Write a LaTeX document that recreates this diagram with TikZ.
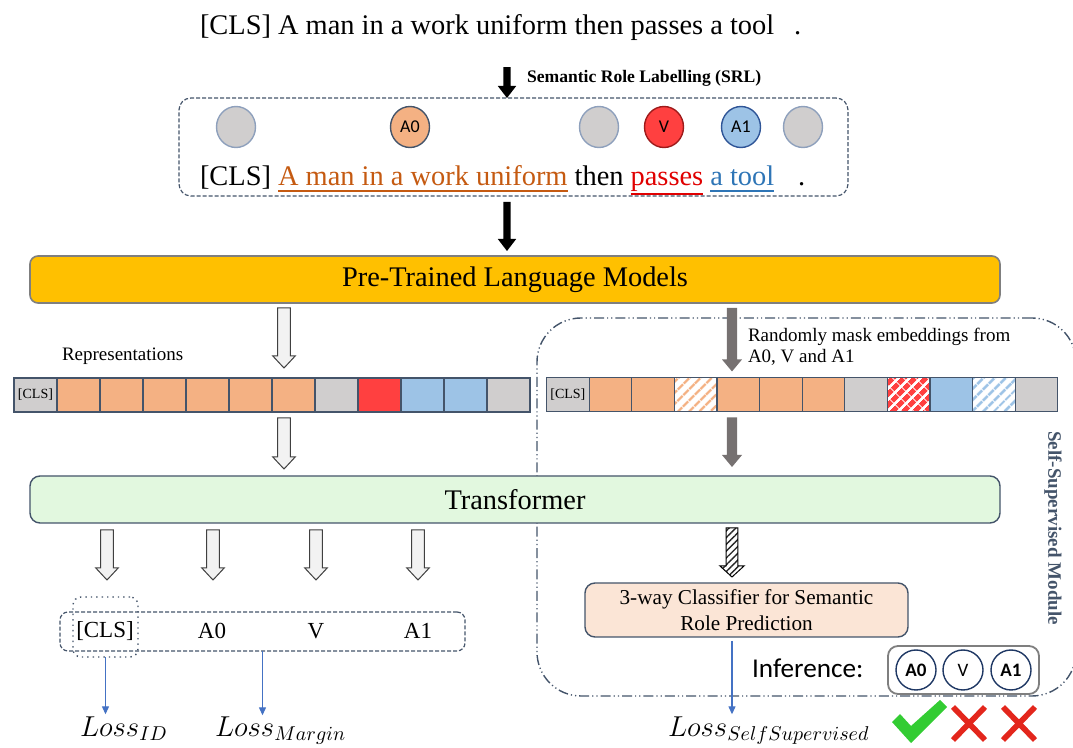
\documentclass[tikz,border=0pt]{standalone}
\usepackage{fontspec}
\setmainfont{Liberation Serif}
\newfontfamily\calfont{Carlito}
\usetikzlibrary{arrows.meta,patterns.meta,calc,shapes.geometric}

\definecolor{bgray}{HTML}{44546A}
\definecolor{plmfill}{HTML}{FFC000}
\definecolor{plmb}{HTML}{7F7F7F}
\definecolor{trfill}{HTML}{E2F8DF}
\definecolor{corange}{HTML}{F4B183}
\definecolor{cgray}{HTML}{D0CECE}
\definecolor{cgrayb}{HTML}{8EA0BC}
\definecolor{cred}{HTML}{FF4040}
\definecolor{darkred}{HTML}{9E1B1B}
\definecolor{cblue}{HTML}{9DC3E6}
\definecolor{blueb}{HTML}{2F5597}
\definecolor{tA0}{HTML}{C55A11}
\definecolor{tV}{HTML}{E00000}
\definecolor{tA1}{HTML}{2E75B6}
\definecolor{clsfill}{HTML}{FBE5D6}
\definecolor{arrgray}{HTML}{767171}
\definecolor{lossblue}{HTML}{4472C4}
\definecolor{navy}{HTML}{1F3864}
\definecolor{okgreen}{HTML}{33CC33}
\definecolor{xred}{HTML}{E3261C}

\newcommand\sentf{\fontsize{14.2}{17}\selectfont}
\newcommand\labf{\fontsize{11.5}{13}\selectfont}
\newcommand\smallf{\fontsize{9.5}{10.5}\selectfont}
\newcommand\lossf{\fontsize{14}{16}\selectfont}
\newcommand\losssub[1]{\raisebox{-2pt}{\fontsize{10}{12}\selectfont$#1$}}

% block arrow: style, start, end, shaft half width, head half width, head length
\newcommand\blk[6]{%
  \path[#1] let \p1=#2, \p2=#3 in
    ({\x1-#4},{\y1}) -- ({\x1-#4},{\y2+#6}) -- ({\x1-#5},{\y2+#6}) --
    ({\x1},{\y2}) -- ({\x1+#5},{\y2+#6}) -- ({\x1+#4},{\y2+#6}) -- ({\x1+#4},{\y1}) -- cycle;}

\begin{document}
\begin{tikzpicture}[x=0.5pt,y=-0.5pt,
  every node/.style={inner sep=0pt, outer sep=0pt},
  blackarr/.style={fill=black},
  grayarr/.style={fill=arrgray},
  hollow/.style={fill=black!5, draw=black!75, line width=0.5pt, line join=miter},
  hatcharr/.style={preaction={fill=white}, pattern={Lines[angle=45,distance=2.4pt,line width=0.7pt]}, pattern color=black!85, draw=black, line width=0.5pt},
  circ/.style={ellipse, minimum width=19.5pt, minimum height=20.5pt, line width=0.7pt, font=\calfont\fontsize{9}{10}\selectfont},
  icirc/.style={circle, minimum size=20pt, line width=0.7pt, draw=navy, fill=white},
  cell/.style={rectangle, draw=bgray, line width=0.6pt, minimum height=17pt},
  lcell/.style={cell, minimum width=21.5pt},
  rcell/.style={cell, minimum width=21.3pt},
  hatchcell/.style={preaction={fill=white}, pattern={Lines[angle=45,distance=4pt,line width=#1]}},
  lossarr/.style={draw=lossblue, line width=0.6pt, -{Triangle[length=4pt,width=3.5pt]}},
  obox/.style={draw=bgray, dash pattern=on 2pt off 1pt, line width=0.6pt, rounded corners=4pt},
  seg/.style={anchor=base west, font=\sentf},
  uline/.style={line width=0.8pt}
]
\useasboundingbox (0,0) rectangle (1073,748);

\coordinate (sx) at (507,0);
\coordinate (hx) at (284,0);
\coordinate (rx) at (732,0);
\coordinate (sp) at (7.1,0);

% ---------- self-supervised module frame (behind everything) ----------
\node[draw=bgray, line width=0.7pt, rounded corners=22pt,
      dash pattern=on 5pt off 1.5pt on 0.6pt off 1.5pt on 0.6pt off 1.5pt,
      minimum width=269.5pt, minimum height=189pt] (ssm) at (806.5,507) {};
\node[rotate=-90, font=\bfseries\smallf, text=bgray] (ssml) at (1053,528) {Self-Supervised Module};

% ---------- top sentence and SRL ----------
\node[seg] (sent) at (200,35) {[CLS] A man in a work uniform then passes a tool\hspace{10pt}.};
\node[anchor=base west, font=\bfseries\fontsize{8.8}{10}\selectfont] (srllab) at (527,83) {Semantic Role Labelling (SRL)};

\node[draw=bgray, dash pattern=on 2pt off 1pt, line width=0.6pt, rounded corners=6pt,
      minimum width=334.5pt, minimum height=49pt] (srl) at (513.5,147) {};

\node[circ, fill=cgray, draw=cgrayb] (c1) at (236,127) {};
\node[circ, fill=corange, draw=bgray] (c2) at (410,127) {A0};
\node[circ, fill=cgray, draw=cgrayb] (c3) at (599,127) {};
\node[circ, fill=cred, draw=darkred] (c4) at (664,127) {V};
\node[circ, fill=cblue, draw=blueb] (c5) at (741,127) {A1};
\node[circ, fill=cgray, draw=cgrayb] (c6) at (803,127) {};

% second sentence, in segments with coloured underlines
\node[seg] (s1) at (200,186) {[CLS]};
\node[seg, text=tA0] (s2) at ($(s1.base east)+(sp)$) {A man in a work uniform};
\node[seg] (s3) at ($(s2.base east)+(sp)$) {then};
\node[seg, text=tV] (s4) at ($(s3.base east)+(sp)$) {passes};
\node[seg, text=tA1] (s5) at ($(s4.base east)+(sp)$) {a tool};
\node[seg] (s6) at ($(s5.base east)+(24,0)$) {.};
\draw[uline, tA0] ($(s2.base west)+(0,5)$) -- ($(s2.base east)+(0,5)$);
\draw[uline, tV] ($(s4.base west)+(0,8)$) -- ($(s4.base east)+(0,8)$);
\draw[uline, tA1] ($(s5.base west)+(0,5)$) -- ($(s5.base east)+(0,5)$);

\coordinate (a1s) at ($(sent.south -| sx)+(0,26)$);
\coordinate (a1e) at (srl.north -| sx);
\blk{blackarr}{(a1s)}{(a1e)}{1.8pt}{4.6pt}{6pt}

% ---------- PLM ----------
\node[draw=plmb, fill=plmfill, rounded corners=4pt, line width=0.8pt,
      minimum width=485pt, minimum height=23.5pt, font=\sentf] (plm) at (515,279.5) {Pre-Trained Language Models};
\coordinate (a2s) at ($(srl.south -| sx)+(0,6)$);
\coordinate (a2e) at ($(plm.north -| sx)+(0,-5)$);
\blk{blackarr}{(a2s)}{(a2e)}{1.8pt}{4.6pt}{6pt}

% ---------- left representations ----------
\node[anchor=base west, font=\smallf] (repr) at (62,361) {Representations};
\foreach \c [count=\i from 0] in {cgray,corange,corange,corange,corange,corange,corange,cgray,cred,cblue,cblue,cgray}
  \node[lcell, fill=\c] (l\i) at ({14+43*(\i+0.5)},395) {};
\node[font=\fontsize{7}{8}\selectfont] (lcls) at (l0) {[CLS]};

\coordinate (h1s) at ($(plm.south -| hx)+(0,5)$);
\coordinate (h1e) at ($(l6.north -| hx)+(0,-10)$);
\blk{hollow}{(h1s)}{(h1e)}{3.2pt}{5.6pt}{6pt}

% ---------- right masked representations ----------
\node[anchor=north west, align=left, font=\smallf] (mask) at (748,328) {Randomly mask embeddings from\\A0, V and A1};
\node[rcell, fill=cgray] (r0) at (567.9,394.5) {};
\node[rcell, fill=corange] (r1) at (610.5,394.5) {};
\node[rcell, fill=corange] (r2) at (653.1,394.5) {};
\node[rcell, hatchcell=1.3pt, pattern color=corange] (r3) at (695.7,394.5) {};
\node[rcell, fill=corange] (r4) at (738.3,394.5) {};
\node[rcell, fill=corange] (r5) at (780.9,394.5) {};
\node[rcell, fill=corange] (r6) at (823.5,394.5) {};
\node[rcell, fill=cgray] (r7) at (866.1,394.5) {};
\node[rcell, hatchcell=2.6pt, pattern color=cred] (r8) at (908.7,394.5) {};
\node[rcell, fill=cblue] (r9) at (951.3,394.5) {};
\node[rcell, hatchcell=1.5pt, pattern color=cblue] (r10) at (993.9,394.5) {};
\node[rcell, fill=cgray] (r11) at (1036.5,394.5) {};
\node[font=\fontsize{7}{8}\selectfont] (rcls) at (r0) {[CLS]};

\coordinate (g1s) at ($(plm.south -| rx)+(0,5)$);
\coordinate (g1e) at ($(r4.north -| rx)+(0,-6)$);
\blk{grayarr}{(g1s)}{(g1e)}{2.6pt}{5pt}{6pt}

% ---------- transformer ----------
\node[draw=bgray, fill=trfill, rounded corners=5pt, line width=0.7pt,
      minimum width=485pt, minimum height=23.5pt, font=\sentf] (tr) at (515,499.5) {Transformer};
\coordinate (h2s) at ($(l6.south -| hx)+(0,6)$);
\coordinate (h2e) at ($(tr.north -| hx)+(0,-7)$);
\blk{hollow}{(h2s)}{(h2e)}{3.2pt}{5.6pt}{6pt}
\coordinate (g2s) at ($(r4.south -| rx)+(0,6)$);
\coordinate (g2e) at ($(tr.north -| rx)+(0,-9)$);
\blk{grayarr}{(g2s)}{(g2e)}{2.6pt}{5pt}{6pt}

% ---------- outputs (left) ----------
\node[obox, minimum width=202.5pt, minimum height=19.5pt] (obox) at (262.5,631.5) {};
\node[draw=bgray, dotted, line width=0.7pt, rounded corners=4pt, minimum width=32.5pt, minimum height=30pt] (clsbox) at (105.5,627) {};
\node[font=\labf] (o1) at (105,631) {[CLS]};
\node[font=\labf] (o2) at (212,631) {A0};
\node[font=\labf] (o3) at (316,631) {V};
\node[font=\labf] (o4) at (418,631) {A1};
\foreach \nm/\xx in {o1/107,o2/213,o3/316,o4/418}{
  \coordinate (tt) at (\xx,0);
  \coordinate (ts) at ($(tr.south -| tt)+(0,7)$);
  \coordinate (te) at ($(obox.north -| tt)+(0,-32)$);
  \blk{hollow}{(ts)}{(te)}{3.2pt}{5.6pt}{6pt}
}

\node[anchor=base west, font=\lossf] (lid) at (80,737) {$Loss$\losssub{ID}};
\node[anchor=base west, font=\lossf] (lmar) at (215,737) {$Loss$\losssub{Margin}};
\draw[lossarr] (clsbox.south) -- ($(clsbox.south |- lid.north)+(0,-3)$);
\draw[lossarr] (obox.south) -- ($(obox.south |- lmar.north)+(0,-2)$);

% ---------- classifier (right) ----------
\node[draw=bgray, fill=clsfill, rounded corners=5pt, line width=0.7pt,
      minimum width=161.5pt, minimum height=27pt, align=center,
      font=\fontsize{10.6}{13.2}\selectfont] (cls) at (746.5,610) {3-way Classifier for Semantic\\Role Prediction};
\coordinate (k1s) at ($(tr.south -| rx)+(0,5)$);
\coordinate (k1e) at ($(cls.north -| rx)+(0,-6)$);
\blk{hatcharr}{(k1s)}{(k1e)}{2.9pt}{6pt}{5.5pt}

\node[anchor=base west, font=\lossf] (lss) at (668,737) {$Loss$\losssub{SelfSupervised}};
\draw[lossarr] ($(cls.south -| rx)+(0,4)$) -- ($(lss.north -| rx)+(0,-3)$);

\node[anchor=base west, font=\calfont\fontsize{13.6}{15}\selectfont] (inf) at (752,678) {Inference:};
\node[draw=plmb, rounded corners=5pt, line width=0.9pt, minimum width=75.5pt, minimum height=24pt] (ibox) at (963.5,670) {};
\node[icirc, font=\calfont\bfseries\fontsize{9.5}{10}\selectfont] (i1) at (916,670) {A0};
\node[icirc, font=\calfont\fontsize{9.5}{10}\selectfont] (i2) at (963,670) {V};
\node[icirc, font=\calfont\bfseries\fontsize{9.5}{10}\selectfont] (i3) at (1011,670) {A1};

% check and crosses
\fill[okgreen] (892,722) -- (900,714) -- (911,726) -- (940,700) -- (947,707) -- (911,743) -- cycle;
\draw[xred, line width=2.8pt] (953,707) -- (985,740) (953,740) -- (985,707);
\draw[xred, line width=2.8pt] (1003,707) -- (1035,740) (1003,740) -- (1035,707);
\end{tikzpicture}
\end{document}
